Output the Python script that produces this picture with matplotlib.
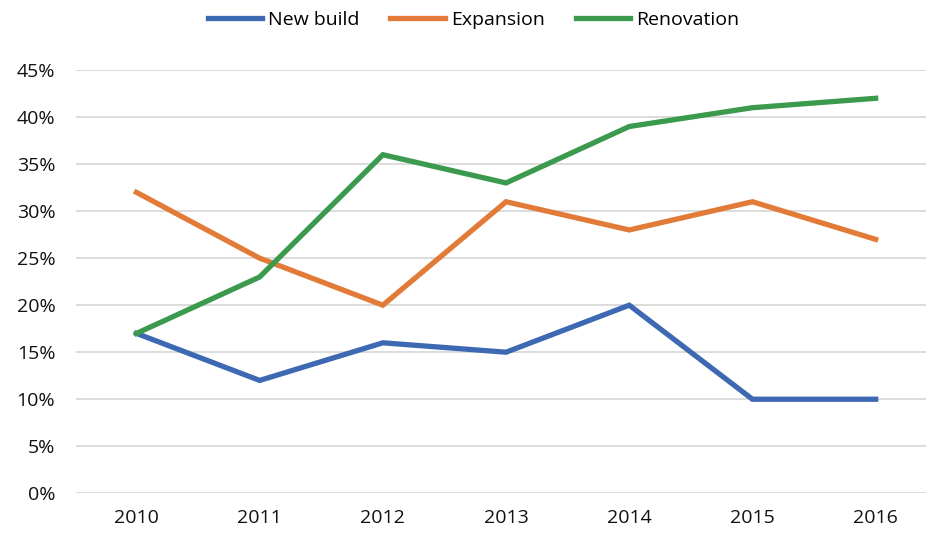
import matplotlib.pyplot as plt
from matplotlib.ticker import PercentFormatter

plt.rcParams["font.family"] = ["Open Sans", "DejaVu Sans"]

# data
years = ["2010", "2011", "2012", "2013", "2014", "2015", "2016"]
new_build = [0.17, 0.12, 0.16, 0.15, 0.20, 0.10, 0.10]
expansion = [0.32, 0.25, 0.20, 0.31, 0.28, 0.31, 0.27]
renovation = [0.17, 0.23, 0.36, 0.33, 0.39, 0.41, 0.42]

series = [
    ("New build", new_build, "#3D69B3"),
    ("Expansion", expansion, "#E27B38"),
    ("Renovation", renovation, "#3C9A4E"),
]

fig = plt.figure(figsize=(9.28, 5.35), dpi=100)
ax = fig.add_axes([0.082, 0.078, 0.916, 0.791])

x = range(len(years))
for name, vals, color in series:
    ax.plot(x, vals, color=color, lw=3.8, label=name, solid_joinstyle="miter",
            zorder=3)

ax.set_ylim(0, 0.45)
ax.set_yticks([i * 0.05 for i in range(10)])
ax.yaxis.set_major_formatter(PercentFormatter(1.0, decimals=0))
ax.set_xlim(-0.49, 6.41)
ax.set_xticks(list(x))
ax.set_xticklabels(years)

ax.grid(axis="y", color="#D9D9D9", lw=1.3)
ax.set_axisbelow(True)
for s in ax.spines.values():
    s.set_visible(False)
ax.tick_params(length=0, labelsize=14, colors="#111111")
ax.tick_params(axis="y", pad=15)
ax.tick_params(axis="x", pad=11)

fig.legend(loc="upper center", bbox_to_anchor=(0.51, 1.012), ncol=3,
           frameon=False, fontsize=14, handlelength=2.8, handletextpad=0.3,
           columnspacing=1.6)

fig.savefig("out.png", dpi=100)
